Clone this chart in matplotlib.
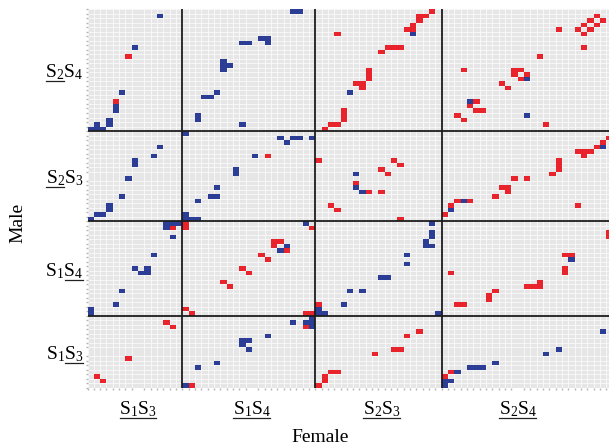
import matplotlib
matplotlib.use('Agg')
import matplotlib.pyplot as plt
from matplotlib.patches import Rectangle
from matplotlib.collections import PatchCollection
from matplotlib.lines import Line2D
import numpy as np

# ============ grid layout (cells per linkage group) ============
FEMALE_GROUPS = ['S1S3', 'S1S4', 'S2S3', 'S2S4']
FEMALE_COLS = [15, 21, 20, 28]
MALE_GROUPS = ['S1S3', 'S1S4', 'S2S3', 'S2S4']   # bottom -> top
MALE_ROWS = [16, 21, 20, 27]
VISIBLE_LAST = 26.45          # last female block is cut at the right edge

# tick label text, split in two halves; flag = underlined half
FEMALE_PARTS = [('S_1', 'S_3'), ('S_1', 'S_4'), ('S_2', 'S_3'), ('S_2', 'S_4')]
FEMALE_UNDER = [(True, True), (True, True), (True, True), (True, True)]
MALE_PARTS = [('S_1', 'S_3'), ('S_1', 'S_4'), ('S_2', 'S_3'), ('S_2', 'S_4')]
MALE_UNDER = [(False, True), (False, True), (True, False), (True, False)]
FEMALE_TICK_AT = [8.0, 11.0, 10.5, 12.0]   # position of label inside each block (cells)

# ============ marked cells: (female block, col, row) per male block ============
BLUE_S2S4 = [(0, 11, 25), (0, 7, 18), (0, 5, 8), (0, 4, 5), (0, 4, 4), (0, 3, 2), (0, 3, 1),
             (0, 1, 1), (0, 0, 0), (0, 1, 0), (0, 2, 0),
             (1, 17, 26), (1, 18, 26), (1, 9, 19), (1, 10, 19), (1, 12, 20), (1, 13, 20),
             (1, 13, 19), (1, 6, 15), (1, 6, 14), (1, 6, 13), (1, 7, 14), (1, 5, 8),
             (1, 3, 7), (1, 4, 7), (1, 2, 3), (1, 2, 2), (1, 9, 1),
             (2, 15, 21), (2, 5, 8),
             (3, 4, 6), (3, 13, 11), (3, 13, 3)]
RED_S2S4 = [(0, 6, 16), (0, 4, 6),
            (2, 18, 26), (2, 16, 25), (2, 17, 25), (2, 16, 24), (2, 15, 23), (2, 15, 22),
            (2, 14, 22), (2, 3, 21), (2, 10, 17), (2, 11, 18), (2, 12, 18), (2, 13, 18),
            (2, 8, 13), (2, 8, 12), (2, 8, 11), (2, 6, 10), (2, 7, 10), (2, 7, 9),
            (2, 4, 4), (2, 4, 3), (2, 4, 2), (2, 2, 1), (2, 3, 1), (2, 1, 0),
            (3, 24, 25), (3, 23, 24), (3, 25, 24), (3, 22, 23), (3, 24, 23), (3, 21, 22),
            (3, 23, 22), (3, 22, 21), (3, 18, 22), (3, 22, 18), (3, 15, 16), (3, 3, 13),
            (3, 11, 13), (3, 12, 13), (3, 11, 12), (3, 13, 12), (3, 12, 11), (3, 9, 10),
            (3, 10, 9), (3, 5, 6), (3, 4, 5), (3, 5, 4), (3, 6, 4), (3, 2, 3), (3, 3, 2),
            (3, 16, 1)]

BLUE_S2S3 = [(0, 11, 16), (0, 10, 14), (0, 7, 13), (0, 7, 12), (0, 6, 9), (0, 5, 5),
             (0, 3, 3), (0, 3, 2), (0, 1, 1), (0, 2, 1), (0, 0, 0),
             (1, 0, 19), (1, 15, 18), (1, 16, 17), (1, 17, 18), (1, 18, 18), (1, 20, 18),
             (1, 11, 14), (1, 8, 11), (1, 8, 10), (1, 5, 7), (1, 4, 5), (1, 5, 5), (1, 2, 4),
             (1, 0, 1), (1, 0, 0), (1, 1, 0), (1, 2, 0),
             (2, 6, 10), (2, 6, 7), (2, 7, 6),
             (3, 25, 16), (3, 3, 4), (3, 1, 2)]
RED_S2S3 = [(1, 13, 14),
            (2, 0, 13), (2, 12, 13), (2, 13, 12), (2, 10, 11), (2, 11, 10), (2, 6, 8),
            (2, 8, 6), (2, 10, 6), (2, 2, 3), (2, 3, 2), (2, 13, 0),
            (3, 26, 18), (3, 25, 17), (3, 24, 16), (3, 21, 15), (3, 22, 15), (3, 23, 15),
            (3, 22, 14), (3, 18, 13), (3, 18, 12), (3, 18, 11), (3, 17, 10), (3, 11, 9),
            (3, 13, 9), (3, 9, 7), (3, 10, 7), (3, 10, 6), (3, 8, 5), (3, 2, 4), (3, 4, 4),
            (3, 1, 3), (3, 0, 1), (3, 21, 3)]

BLUE_S1S4 = [(0, 12, 20), (0, 13, 20), (0, 14, 20), (0, 12, 19), (0, 13, 17), (0, 10, 13),
             (0, 7, 10), (0, 8, 9), (0, 9, 9), (0, 9, 10), (0, 5, 5), (0, 4, 2), (0, 0, 1),
             (0, 0, 0),
             (1, 19, 20), (1, 16, 15), (1, 15, 14),
             (2, 18, 20), (2, 18, 18), (2, 18, 17), (2, 17, 16), (2, 17, 15), (2, 18, 15),
             (2, 14, 13), (2, 14, 11), (2, 10, 8), (2, 11, 8), (2, 5, 5), (2, 7, 5),
             (2, 4, 2), (2, 0, 1), (2, 0, 0), (2, 1, 0), (2, 19, 0),
             (3, 20, 12)]
RED_S1S4 = [(0, 13, 19),
            (1, 0, 20), (1, 0, 19), (1, 20, 19), (1, 14, 16), (1, 15, 16), (1, 14, 15),
            (1, 16, 14), (1, 12, 13), (1, 13, 12), (1, 9, 10), (1, 10, 9), (1, 6, 7),
            (1, 7, 6), (1, 0, 1), (1, 1, 0), (1, 19, 0), (1, 20, 0),
            (2, 0, 2),
            (3, 26, 18), (3, 26, 17), (3, 19, 13), (3, 20, 13), (3, 19, 10), (3, 19, 9),
            (3, 13, 6), (3, 14, 6), (3, 15, 6), (3, 15, 7), (3, 8, 5), (3, 7, 4), (3, 7, 3),
            (3, 2, 2), (3, 3, 2), (3, 1, 9)]

BLUE_S1S3 = [(1, 17, 14), (1, 19, 14), (1, 20, 15), (1, 20, 14), (1, 20, 13), (1, 13, 11),
             (1, 9, 10), (1, 10, 10), (1, 9, 9), (1, 10, 8), (1, 5, 5), (1, 2, 4), (1, 0, 0),
             (3, 25, 12), (3, 18, 8), (3, 16, 7), (3, 8, 5), (3, 4, 4), (3, 5, 4), (3, 6, 4),
             (3, 2, 3), (3, 0, 1), (3, 1, 1), (3, 0, 0)]
RED_S1S3 = [(0, 12, 14), (0, 13, 13), (0, 6, 6), (0, 1, 2), (0, 2, 1),
            (1, 19, 13), (1, 1, 0),
            (2, 16, 12), (2, 14, 11), (2, 12, 8), (2, 13, 8), (2, 9, 7), (2, 2, 3), (2, 3, 3),
            (2, 1, 2), (2, 1, 1), (2, 0, 0),
            (3, 1, 3), (3, 0, 2)]

BLUE = '#2c3d95'
RED = '#e8232b'

# ============ fonts ============
plt.rcParams['font.family'] = ['Liberation Serif', 'DejaVu Serif']
plt.rcParams['mathtext.fontset'] = 'custom'
plt.rcParams['mathtext.rm'] = 'Liberation Serif'
plt.rcParams['mathtext.it'] = 'Liberation Serif:italic'
plt.rcParams['mathtext.default'] = 'rm'

x_start = np.concatenate([[0], np.cumsum(FEMALE_COLS)[:-1]])
y_start = np.concatenate([[0], np.cumsum(MALE_ROWS)[:-1]])
x_max = x_start[-1] + VISIBLE_LAST
y_max = sum(MALE_ROWS)

fig = plt.figure(figsize=(6.09, 4.47), dpi=100)
ax = fig.add_axes([87.5 / 609, 1 - 388 / 447, (609 - 87.5) / 609, (388 - 9.3) / 447])
ax.set_facecolor('#e6e6e6')

male_blocks = [(BLUE_S1S3, RED_S1S3), (BLUE_S1S4, RED_S1S4),
               (BLUE_S2S3, RED_S2S3), (BLUE_S2S4, RED_S2S4)]
for m, (blues, reds) in enumerate(male_blocks):
    for cells, col in ((blues, BLUE), (reds, RED)):
        rects = [Rectangle((x_start[f] + c, y_start[m] + r), 1, 1) for f, c, r in cells]
        ax.add_collection(PatchCollection(rects, facecolor=col, edgecolor='none', zorder=2))

# fine grid
ax.set_xticks(np.arange(0, int(x_max) + 1), minor=True)
ax.set_yticks(np.arange(0, y_max + 1), minor=True)
ax.grid(which='minor', color='#fafafa', lw=0.6, zorder=1)
ax.set_axisbelow(True)

# block separators
for xs in x_start[1:]:
    ax.axvline(xs, color='#1c1c1c', lw=1.3, zorder=3)
for ys in y_start[1:]:
    ax.axhline(ys, color='#1c1c1c', lw=1.3, zorder=3)

ax.set_xlim(0, x_max)
ax.set_ylim(0, y_max)
for sp in ax.spines.values():
    sp.set_visible(False)

FS = 14
ax.set_xticks(x_start + np.array(FEMALE_TICK_AT),
              [f'${a}{b}$' for a, b in FEMALE_PARTS], fontsize=FS)
ax.set_yticks(y_start + np.array(MALE_ROWS) / 2,
              [f'${a}{b}$' for a, b in MALE_PARTS], fontsize=FS)
ax.tick_params(which='major', length=0, pad=8)
ax.tick_params(axis='y', which='major', pad=3)
ax.tick_params(which='minor', length=1.5, width=1.0, color='#b5b5b5', direction='out')

fig.text(320 / 609, 1 - 437 / 447, 'Female', ha='center', va='center', fontsize=FS)
fig.text(18 / 609, 1 - 223 / 447, 'Male', ha='center', va='center', rotation=90, fontsize=FS)

# mathtext has no \underline here: draw the underlines from the label extents
fig.canvas.draw()
renderer = fig.canvas.get_renderer()
to_fig = fig.transFigure.inverted()


def first_width(s):
    t = fig.text(0, 0, f'${s}$', fontsize=FS)
    w = t.get_window_extent(renderer).width
    t.remove()
    return w


def underline(labels, parts, flags):
    for lab, (a, b), (ua, ub) in zip(labels, parts, flags):
        bb = lab.get_window_extent(renderer)
        xm = bb.x0 + first_width(a)
        y = bb.y0 + 1.0
        for on, x0, x1 in ((ua, bb.x0 + 0.5, xm - 0.5), (ub, xm + 0.5, bb.x1 - 0.5)):
            if on:
                (fx0, fy), (fx1, _) = to_fig.transform([(x0, y), (x1, y)])
                fig.add_artist(Line2D([fx0, fx1], [fy, fy], transform=fig.transFigure,
                                      color='#222222', lw=0.9))


underline(ax.get_xticklabels(), FEMALE_PARTS, FEMALE_UNDER)
underline(ax.get_yticklabels(), MALE_PARTS, MALE_UNDER)

fig.savefig('out.png', dpi=100)
